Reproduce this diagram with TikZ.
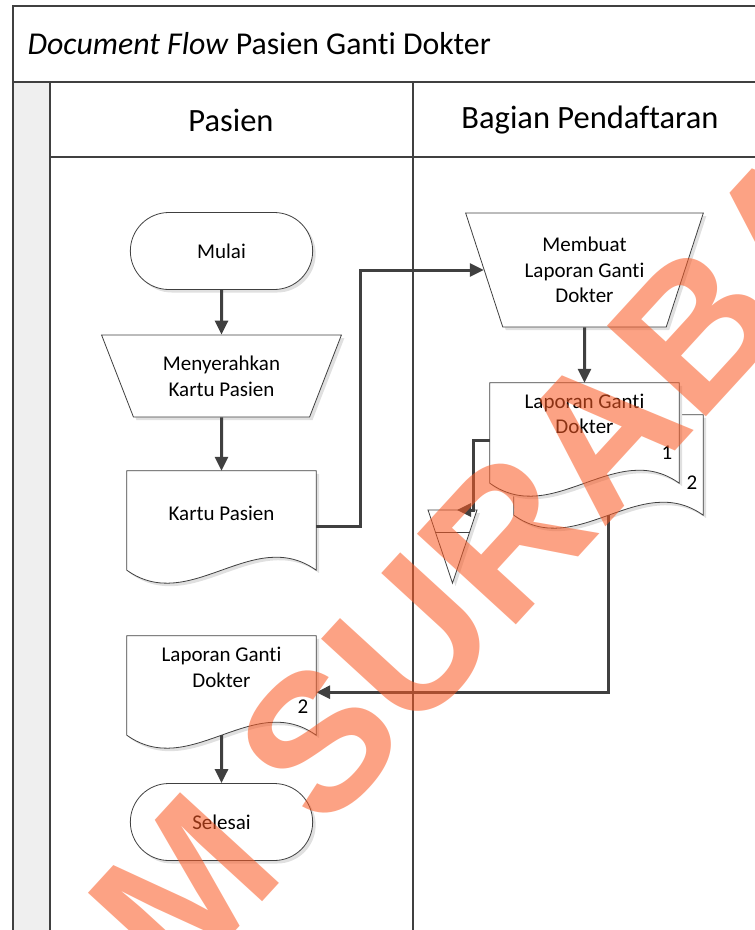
\documentclass[tikz,border=0pt]{standalone}
\usepackage{fontspec}
\setmainfont{Carlito}[Ligatures=NoCommon]
\newfontfamily\wmfont{Liberation Sans}
\usetikzlibrary{shapes.geometric,shapes.misc,calc,arrows.meta,shadows}

\definecolor{abugelap}{RGB}{64,64,64}
\definecolor{abupita}{RGB}{239,239,239}
\definecolor{oranye}{RGB}{250,90,36}

\pgfdeclarelayer{latar}
\pgfsetlayers{latar,main}

\tikzset{
  bentuk/.style={draw=abugelap, line width=0.8pt, fill=white,
    general shadow={fill=black!12, shadow xshift=3pt, shadow yshift=-3pt}},
  teks/.style={font=\fontsize{21}{25.6}\selectfont, align=center},
  terminal/.style={rounded rectangle, bentuk, teks, minimum width=189pt, minimum height=77pt},
  manual/.style={trapezium, trapezium stretches=true, bentuk, teks, inner sep=0pt},
  dok/.style={rectangle, teks, minimum width=189pt, inner sep=0pt},
  lajur/.style={draw=abugelap, line width=2.6pt},
  judulkol/.style={font=\fontsize{32.5}{38}\selectfont},
  panah/.style={->, draw=abugelap, line width=3pt}
}

% garis tepi dokumen bergelombang
\newcommand{\dokumen}[3]{%
  \begin{pgfonlayer}{latar}
  \draw[bentuk] (#1.north west) -- (#1.north east) -- ($(#1.south east)+(0,#2)$)
    .. controls ($(#1.south east)!1/3!(#1.south west)+(0,#2-#3)$)
    and ($(#1.south east)!2/3!(#1.south west)+(0,#2+#3)$)
    .. ($(#1.south west)+(0,#2)$) -- cycle;
  \end{pgfonlayer}}

\begin{document}
\begin{tikzpicture}[x=1pt, y=-1pt, >={Triangle[length=14pt,width=13pt]}]

    \useasboundingbox (0,0) rectangle (755,930);
    \clip (0,0) rectangle (755,930);

    % Kolam dan lajur
    \fill[abupita] (13,82) rectangle (50,940);
    \draw[lajur] (770,6) -- (13,6) -- (13,940);
    \draw[lajur] (13,82) -- (770,82);
    \draw[lajur] (50,82) -- (50,940);
    \draw[lajur] (50,157) -- (770,157);
    \draw[lajur] (413,82) -- (413,940);

    \node[anchor=west, font=\fontsize{31.8}{38}\selectfont] (judul) at (24,44)
         {\textit{Document Flow} Pasien Ganti Dokter};
    \node[judulkol] (kolPasien) at (231,120) {Pasien};
    \node[judulkol] (kolDaftar) at (590,120) {Bagian Pendaftaran};

    % Lajur Pasien
    \node[terminal] (mulai) at (221.5,251) {Mulai};
    \node[manual, minimum width=240pt, minimum height=82pt,
          trapezium left angle=117.7, trapezium right angle=117.7] (serah) at (221.5,376)
         {Menyerahkan\\Kartu Pasien};
    \node[dok, minimum height=85pt] (kartu) at (221.5,513.5) {Kartu Pasien};
    \dokumen{kartu}{14}{45}
    \node[dok, minimum height=63pt] (lapP) at (221.5,667.5) {Laporan Ganti\\Dokter};
    \dokumen{lapP}{36}{45}
    \node[teks] (no3) at (303,707) {2};
    \node[terminal] (selesai) at (221.5,822) {Selesai};

    % Lajur Bagian Pendaftaran
    \node[manual, minimum width=238pt, minimum height=114pt,
          trapezium left angle=112.4, trapezium right angle=112.4] (buat) at (584.5,270)
         {Membuat\\Laporan Ganti\\Dokter};
    \node[dok, minimum height=62pt] (lap2) at (608.5,446) {};
    \dokumen{lap2}{38}{45}
    \node[dok, minimum height=62pt] (lap1) at (584.5,414) {Laporan Ganti\\Dokter};
    \dokumen{lap1}{38}{45}
    \node[teks] (no1) at (667,453) {1};
    \node[teks] (no2) at (692,483) {2};

    % Arsip (segitiga)
    \draw[bentuk] (428,510) -- (477,510) -- (452.5,583) -- cycle;
    \draw[draw=abugelap, line width=0.8pt] (435.4,532) -- (469.6,532);
    \coordinate (arsip) at (457,510);

    % Alur
    \draw[panah] (mulai) -- (serah);
    \draw[panah] (serah) -- (kartu);
    \draw[panah] ($(kartu.north east)+(0,56)$) -- ++(44,0) |- (buat.west);
    \draw[panah] (buat) -- (lap1);
    \draw[panah] ($(lap1.south west)+(0,-5)$) -- ++(-16,0) |- (arsip);
    \draw[panah] ($(lap2.south)+(0,38)$) |- ($(lapP.south east)+(0,-7)$);
    \draw[panah] ($(lapP.south)+(0,36)$) -- (selesai);

    % Tanda air
    \node[font=\wmfont\bfseries\fontsize{195}{195}\selectfont, text=oranye, text opacity=0.56,
          rotate=47.5] (tanda) at (362,694) {STIKOM SURABAYA};

\end{tikzpicture}
\end{document}
